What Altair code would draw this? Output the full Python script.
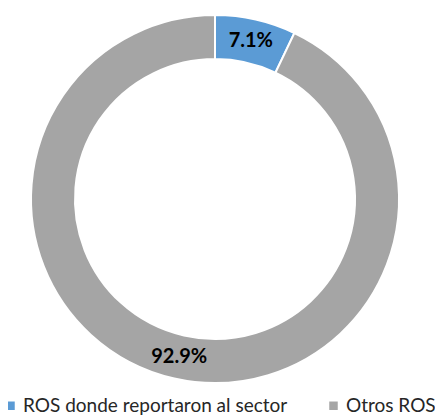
import altair as alt
import pandas as pd

categories = ["ROS donde reportaron al sector", "Otros ROS"]
values = [7.1, 92.9]
labels = ["7.1%", "92.9%"]
colors = ["#5B9BD5", "#A5A5A5"]

df = pd.DataFrame({"cat": categories, "value": values, "label": labels, "idx": [0, 1]})

CX, CY = 207, 199

arc = alt.Chart(df).mark_arc(outerRadius=184, innerRadius=140, stroke="white", strokeWidth=2).encode(
    theta=alt.Theta("value:Q", stack=True),
    order=alt.Order("idx:Q"),
    color=alt.Color(
        "cat:N",
        scale=alt.Scale(domain=categories, range=colors),
        sort=categories,
        legend=alt.Legend(
            orient="none", legendX=-7, legendY=396, direction="horizontal", title=None,
            symbolType="square", symbolSize=72, symbolStrokeWidth=0,
            labelFont="Lato", labelFontSize=19, labelColor="#262626", labelLimit=500,
            labelOffset=3, columnPadding=36, padding=0,
        ),
    ),
    x=alt.value(CX),
    y=alt.value(CY),
)

text = alt.Chart(df).mark_text(radius=162, font="Lato", fontSize=20, fontWeight="bold", color="#000000").encode(
    theta=alt.Theta("value:Q", stack=True),
    order=alt.Order("idx:Q"),
    text="label:N",
    x=alt.value(CX),
    y=alt.value(CY),
)

chart = (arc + text).properties(
    width=427, height=416, autosize=alt.AutoSizeParams(type="none"),
    padding={"top": -8, "left": 0, "right": 0, "bottom": 0},
).configure_view(stroke=None)

chart.save("out.html", embed_options={"renderer": "svg", "actions": False})
